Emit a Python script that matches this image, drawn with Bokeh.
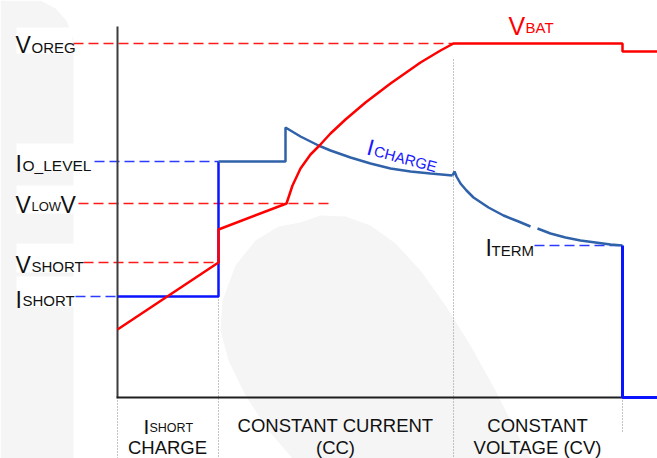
from bokeh.plotting import figure
from bokeh.models import Range1d
from bokeh.core.properties import value
from bokeh.embed import file_html
from bokeh.resources import INLINE

# ---------------- diagram data (diagram units: x = time, y = level, downwards) ----------------
# phase boundaries on the time axis
t_start, t_short_end, t_lowv, t_cv, t_term, t_end = 117, 218, 286, 453, 622, 657
# reference levels
lvl_voreg, lvl_iolevel, lvl_vlowv, lvl_vshort, lvl_ishort, lvl_iterm, lvl_zero = 43, 161, 203, 262, 296, 245, 397

# battery voltage trace
vbat_x = [117, 218, 218, 286, 292, 300, 310, 319, 330, 345, 365, 390, 420, 440, 453, 622, 622, 657]
vbat_y = [329, 262, 229, 203, 185, 168, 154, 145, 133, 119, 102, 83, 62, 50, 43, 43, 51, 51]

# charge current: short-charge step (pure blue)
ishort_x = [117, 218, 218]
ishort_y = [296, 296, 161]
# charge current: CC level + CC decay curve
icc_x = [218, 285, 285, 300, 318, 330, 350, 370, 390, 410, 430, 452]
icc_y = [161, 161, 127, 136, 145, 150, 157, 163, 168, 171, 173, 175]
# charge current: CV taper (drawn in two parts)
icv1_x = [452, 454, 456, 460, 466, 473, 488, 503, 518, 530]
icv1_y = [175, 171, 176, 183, 190, 197, 207, 215, 221, 226]
icv2_x = [537, 550, 565, 580, 595, 610, 622]
icv2_y = [228, 233, 237, 240, 242, 244, 245]
# termination step
iend_x = [622, 622, 657]
iend_y = [245, 397, 397]

# dashed reference lines: (x0, x1, level, colour)
ref_x0 = [73, 94, 78, 83, 75, 534]
ref_x1 = [453, 218, 330, 218, 117, 622]
ref_y = [43, 161, 203, 262, 296, 245]
ref_col = ["#ff1a1a", "#2b3bff", "#ff1a1a", "#ff1a1a", "#2b3bff", "#2b3bff"]

# phase boundary dotted lines
div_x = [117, 218, 453, 622]
div_y0 = [397, 296, 59, 397]
div_y1 = [458, 458, 458, 432]

# level labels (main letter + subscript)
lab_main = ["V", "I", "V", "V", "I"]
lab_main_x = [15, 15, 15, 15, 15]
lab_main_y = [44, 163, 204, 264, 299]
lab_sub = ["OREG", "O_LEVEL", "LOW", "SHORT", "SHORT"]
lab_sub_x = [31, 22, 31, 31, 22]
lab_sub_y = [47, 165, 206, 266, 300]
lab_sub_size = ["15px", "15.5px", "13px", "15px", "15px"]

# phase labels
phase_text = ["CONSTANT CURRENT", "(CC)", "CONSTANT", "VOLTAGE (CV)", "CHARGE"]
phase_x = [335, 335, 537, 537, 167]
phase_y = [425, 447, 425, 447, 447]

# ---------------- figure ----------------
W, H = 657, 458
p = figure(width=W, height=H, output_backend="svg", toolbar_location=None,
           x_range=Range1d(0, W), y_range=Range1d(H, 0), min_border=0)
p.axis.visible = False
p.grid.visible = False
p.outline_line_color = None
p.background_fill_color = "white"
p.border_fill_color = "white"

BG = "#f5f5f5"
# decorative background shapes
p.patch([0, 40, 55, 66, 73, 73, 0], [0, 0, 8, 20, 38, 458, 458], color=BG, line_color=None)
p.patch([300, 320, 345, 370, 395, 420, 445, 470, 495, 515, 530, 292, 268, 245, 228, 220, 222, 235, 255, 278],
        [222, 215, 216, 225, 243, 270, 305, 345, 390, 430, 458, 458, 430, 395, 360, 330, 300, 265, 240, 226],
        color=BG, line_color=None)

# white label boxes
p.quad(left=[16, 16, 16, 16, 16], right=[72, 92, 77, 76, 74],
       top=[27, 143, 185, 243, 276], bottom=[53, 170, 213, 272, 306],
       color="white", line_color=None)

# dotted phase dividers
for x, y0, y1 in zip(div_x, div_y0, div_y1):
    p.line([x, x], [y0, y1], line_color="#8a8a8a", line_width=1, line_dash="1 2")

# dashed reference lines
for x0, x1, y, c in zip(ref_x0, ref_x1, ref_y, ref_col):
    p.line([x0, x1], [y, y], line_color=c, line_width=1.5, line_dash="10 5")

# axes
p.line([t_start, t_start], [26, lvl_zero], line_color="#3c3c3c", line_width=2)
p.line([t_start - 1, t_term], [lvl_zero, lvl_zero], line_color="#1e1e1e", line_width=2)

# traces
STEEL = "#2f62a8"
BLUE = "#0a14ff"
RED = "#ff0000"
p.line(ishort_x, ishort_y, line_color=BLUE, line_width=2.5)
p.line(icc_x, icc_y, line_color=STEEL, line_width=2.5)
p.line(icv1_x, icv1_y, line_color=STEEL, line_width=2.5)
p.line(icv2_x, icv2_y, line_color=STEEL, line_width=2.5)
p.line(iend_x, iend_y, line_color=BLUE, line_width=3)
p.line(vbat_x, vbat_y, line_color=RED, line_width=2.5)

FONT = value("Liberation Sans")

# level labels
p.text(x=lab_main_x, y=lab_main_y, text=lab_main, text_font=FONT, text_font_size=value("23px"),
       text_color="#111111", text_baseline="alphabetic", text_align="left")
for t, x, y, s in zip(lab_sub, lab_sub_x, lab_sub_y, lab_sub_size):
    p.text(x=[x], y=[y], text=[t], text_font=FONT, text_font_size=value(s),
           text_color="#111111", text_baseline="alphabetic", text_align="left")
# second V of VLOWV
p.text(x=[60], y=[204], text=["V"], text_font=FONT, text_font_size=value("23px"),
       text_color="#111111", text_baseline="alphabetic", text_align="left")

# ITERM
p.text(x=[485], y=[247], text=["I"], text_font=FONT, text_font_size=value("23px"),
       text_color="#111111", text_baseline="alphabetic")
p.text(x=[491], y=[250], text=["TERM"], text_font=FONT, text_font_size=value("15px"),
       text_color="#111111", text_baseline="alphabetic")

# VBAT
p.text(x=[508], y=[25], text=["V"], text_font=FONT, text_font_size=value("25px"),
       text_color=RED, text_baseline="alphabetic")
p.text(x=[525], y=[27], text=["BAT"], text_font=FONT, text_font_size=value("15px"),
       text_color=RED, text_baseline="alphabetic")

# ICHARGE (slanted)
ang = -0.26
p.text(x=[367], y=[146], text=["I"], text_font=FONT, text_font_size=value("23px"),
       text_color="#1a1aff", text_baseline="alphabetic", angle=ang)
p.text(x=[374], y=[150], text=["CHARGE"], text_font=FONT, text_font_size=value("15px"),
       text_color="#1a1aff", text_baseline="alphabetic", angle=ang)

# phase labels
p.text(x=phase_x, y=phase_y, text=phase_text, text_font=FONT, text_font_size=value("18.5px"),
       text_color="#111111", text_baseline="alphabetic", text_align="center")
p.text(x=[143], y=[426], text=["I"], text_font=FONT, text_font_size=value("21px"),
       text_color="#111111", text_baseline="alphabetic")
p.text(x=[149], y=[427], text=["SHORT"], text_font=FONT, text_font_size=value("12.5px"),
       text_color="#111111", text_baseline="alphabetic")

html = file_html(p, INLINE)
html = html.replace("<head>", "<head><style>html,body{margin:0;padding:0;overflow:hidden;}</style>", 1)
open("out.html", "w").write(html)
